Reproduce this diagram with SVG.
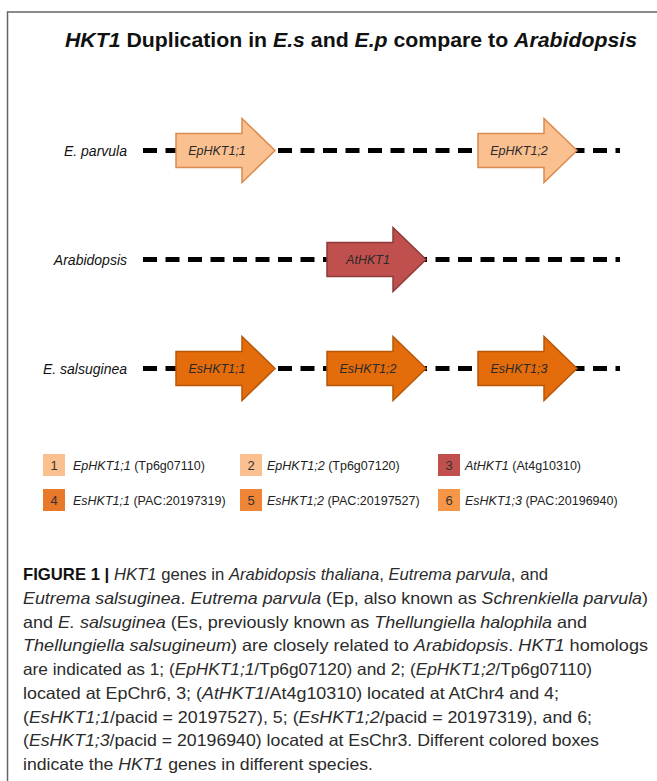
<svg xmlns="http://www.w3.org/2000/svg" width="657" height="781" viewBox="0 0 657 781">
<style>
  .frame{stroke:#666;stroke-width:1.5;fill:none}
  .chrom{stroke:#000;stroke-width:5;stroke-dasharray:14 8.5;fill:none}
  .sp{font-family:"Liberation Sans",Arial,sans-serif;font-style:italic;font-size:14px;fill:#111}
  .gl{font-family:"Liberation Sans",Arial,sans-serif;font-style:italic;font-size:12.5px;fill:#2a2a2a;text-anchor:middle}
  .light{fill:#fac090;stroke:#d98a4e;stroke-width:1.5}
  .red{fill:#c0504d;stroke:#8e3a38;stroke-width:1.5}
  .orng{fill:#e46c0a;stroke:#b65708;stroke-width:1.5}
  .lg{font-family:"Liberation Sans",Arial,sans-serif;font-size:12.5px;fill:#222}
  .num{font-family:"Liberation Sans",Arial,sans-serif;font-size:13px;fill:#333;text-anchor:middle}
  .cap{font-family:"Liberation Sans",Arial,sans-serif;font-size:16.5px;fill:#2b2b2b}
  .i{font-style:italic}
  .b{font-weight:bold}
</style>
<defs>
  <path id="arr" d="M0,-17 H66 V-32 L99,0 L66,32 V17 H0 Z"/>
</defs>
<rect width="657" height="781" fill="#fff"/>
<path class="frame" d="M7.5,781 V12 H657"/>

<text id="title" x="65" y="47" font-family="Liberation Sans,Arial,sans-serif" font-size="20" font-weight="bold" fill="#111" textLength="572" lengthAdjust="spacingAndGlyphs"><tspan class="i">HKT1</tspan> Duplication in <tspan class="i">E.s</tspan> and <tspan class="i">E.p</tspan> compare to <tspan class="i">Arabidopsis</tspan></text>

<g id="connectors">
  <line class="chrom" x1="143" y1="150.5" x2="620" y2="150.5"/>
  <line class="chrom" x1="143" y1="259.5" x2="620" y2="259.5"/>
  <line class="chrom" x1="143" y1="368.5" x2="620" y2="368.5"/>
</g>

<g id="labels">
  <text class="sp" x="127" y="155.5" text-anchor="end">E. parvula</text>
  <text class="sp" x="127" y="264.5" text-anchor="end">Arabidopsis</text>
  <text class="sp" x="127" y="373.5" text-anchor="end">E. salsuginea</text>
</g>

<g id="EpHKT1_1">
  <use href="#arr" class="light" transform="translate(176,150.5)"/>
  <text class="gl" x="217" y="155">EpHKT1;1</text>
</g>
<g id="EpHKT1_2">
  <use href="#arr" class="light" transform="translate(478,150.5)"/>
  <text class="gl" x="519" y="155">EpHKT1;2</text>
</g>
<g id="AtHKT1">
  <use href="#arr" class="red" transform="translate(327,259.5)"/>
  <text class="gl" x="368" y="264">AtHKT1</text>
</g>
<g id="EsHKT1_1">
  <use href="#arr" class="orng" transform="translate(176,368.5)"/>
  <text class="gl" x="217" y="373">EsHKT1;1</text>
</g>
<g id="EsHKT1_2">
  <use href="#arr" class="orng" transform="translate(327,368.5)"/>
  <text class="gl" x="368" y="373">EsHKT1;2</text>
</g>
<g id="EsHKT1_3">
  <use href="#arr" class="orng" transform="translate(478,368.5)"/>
  <text class="gl" x="519" y="373">EsHKT1;3</text>
</g>

<g id="legend">
  <g id="leg1">
    <rect x="43" y="454" width="22" height="22" fill="#fac090"/>
    <text class="num" x="54" y="470">1</text>
    <text class="lg" x="73" y="469.5"><tspan class="i">EpHKT1;1</tspan> (Tp6g07110)</text>
  </g>
  <g id="leg2">
    <rect x="240" y="454" width="22" height="22" fill="#fac090"/>
    <text class="num" x="251" y="470">2</text>
    <text class="lg" x="267" y="469.5"><tspan class="i">EpHKT1;2</tspan> (Tp6g07120)</text>
  </g>
  <g id="leg3">
    <rect x="438" y="454" width="22" height="22" fill="#c0504d"/>
    <text class="num" x="449" y="470" fill="#3a1515">3</text>
    <text class="lg" x="465" y="469.5"><tspan class="i">AtHKT1</tspan> (At4g10310)</text>
  </g>
  <g id="leg4">
    <rect x="43" y="489" width="22" height="22" fill="#e8782a"/>
    <text class="num" x="54" y="505">4</text>
    <text class="lg" x="73" y="504.5"><tspan class="i">EsHKT1;1</tspan> (PAC:20197319)</text>
  </g>
  <g id="leg5">
    <rect x="240" y="489" width="22" height="22" fill="#ef8537"/>
    <text class="num" x="251" y="505">5</text>
    <text class="lg" x="267" y="504.5"><tspan class="i">EsHKT1;2</tspan> (PAC:20197527)</text>
  </g>
  <g id="leg6">
    <rect x="438" y="489" width="22" height="22" fill="#f79646"/>
    <text class="num" x="449" y="505">6</text>
    <text class="lg" x="465" y="504.5"><tspan class="i">EsHKT1;3</tspan> (PAC:20196940)</text>
  </g>
</g>

<g id="caption">
  <text class="cap" x="23" y="580" textLength="525" lengthAdjust="spacingAndGlyphs"><tspan class="b" fill="#111">FIGURE 1 | </tspan><tspan class="i">HKT1</tspan> genes in <tspan class="i">Arabidopsis thaliana</tspan>, <tspan class="i">Eutrema parvula</tspan>, and</text>
  <text class="cap" x="23" y="603.75" textLength="625" lengthAdjust="spacingAndGlyphs"><tspan class="i">Eutrema salsuginea</tspan>. <tspan class="i">Eutrema parvula</tspan> (Ep, also known as <tspan class="i">Schrenkiella parvula</tspan>)</text>
  <text class="cap" x="23" y="627.5" textLength="564" lengthAdjust="spacingAndGlyphs">and <tspan class="i">E. salsuginea</tspan> (Es, previously known as <tspan class="i">Thellungiella halophila</tspan> and</text>
  <text class="cap" x="23" y="651.25" textLength="625" lengthAdjust="spacingAndGlyphs"><tspan class="i">Thellungiella salsugineum</tspan>) are closely related to <tspan class="i">Arabidopsis</tspan>. <tspan class="i">HKT1</tspan> homologs</text>
  <text class="cap" x="23" y="675" textLength="569" lengthAdjust="spacingAndGlyphs">are indicated as 1; (<tspan class="i">EpHKT1;1</tspan>/Tp6g07120) and 2; (<tspan class="i">EpHKT1;2</tspan>/Tp6g07110)</text>
  <text class="cap" x="23" y="698.75" textLength="536" lengthAdjust="spacingAndGlyphs">located at EpChr6, 3; (<tspan class="i">AtHKT1</tspan>/At4g10310) located at AtChr4 and 4;</text>
  <text class="cap" x="23" y="722.5" textLength="569" lengthAdjust="spacingAndGlyphs">(<tspan class="i">EsHKT1;1</tspan>/pacid = 20197527), 5; (<tspan class="i">EsHKT1;2</tspan>/pacid = 20197319), and 6;</text>
  <text class="cap" x="23" y="746.25" textLength="576" lengthAdjust="spacingAndGlyphs">(<tspan class="i">EsHKT1;3</tspan>/pacid = 20196940) located at EsChr3. Different colored boxes</text>
  <text class="cap" x="23" y="770" textLength="350" lengthAdjust="spacingAndGlyphs">indicate the <tspan class="i">HKT1</tspan> genes in different species.</text>
</g>
</svg>
